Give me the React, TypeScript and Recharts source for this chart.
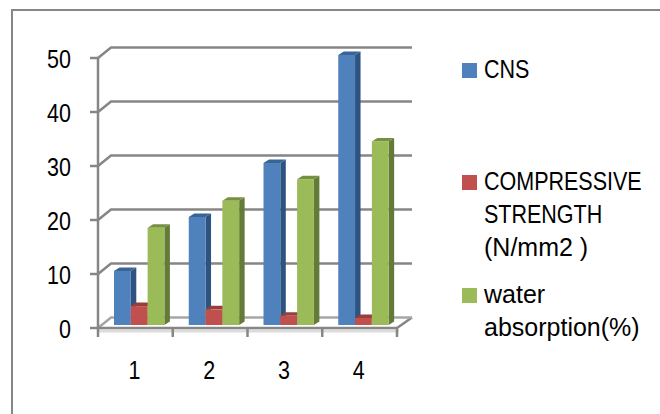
import React from 'react';
import { BarChart, Bar, XAxis, YAxis, CartesianGrid, Legend } from 'recharts';

const categories = ['1', '2', '3', '4'];
const cnsValues = [10, 20, 30, 50];
const strengthValues = [3.5, 2.9, 1.7, 1.3];
const waterValues = [18, 23, 27, 34];
const yTicks = [0, 10, 20, 30, 40, 50];

const data = categories.map((name, i) => ({
  name,
  cns: cnsValues[i],
  strength: strengthValues[i],
  water: waterValues[i],
}));

const FONT = '"Liberation Sans", sans-serif';
const AXIS = '#868686';
const LINE = 2.5;
// the reference font has narrow caps and digits, so squeeze Liberation Sans to fit
const SQUEEZE = 0.86;

// fake 3D: face colours for each series
const sideColors: Record<string, string> = { '#4F81BD': '#2F5380', '#C0504D': '#8C3836', '#9BBB59': '#647A38' };
const topColors: Record<string, string> = { '#4F81BD': '#386496', '#C0504D': '#983F3C', '#9BBB59': '#76903F' };

const Bar3D = (props: any) => {
  const { x, y, width, height, fill } = props;
  const dx = 5.5;
  const dy = -3.5;
  const left = x + 4;
  const top = y - 3;
  const right = left + width;
  const bottom = top + height;
  return (
    <g>
      <path d={`M${right} ${top}L${right + dx} ${top + dy}L${right + dx} ${bottom + dy}L${right} ${bottom}Z`} fill={sideColors[fill]} />
      <path d={`M${left} ${top}L${left + dx} ${top + dy}L${right + dx} ${top + dy}L${right} ${top}Z`} fill={topColors[fill]} />
      <rect x={left} y={top} width={width} height={height} fill={fill} />
    </g>
  );
};

// gridlines sit on the back wall, joined to the axis by a short diagonal
const WallLine = (props: any) => {
  const { x1, x2, y1 } = props;
  const floor = y1 > 300;
  return (
    <g>
      {floor && <path d={`M${x2} ${y1}L${x2 + 15} ${y1 - 10.5}`} stroke={AXIS} strokeWidth={LINE} fill="none" />}
      {floor && <path d={`M${x1} ${y1 + 3}L${x2 + 2} ${y1 + 3}`} stroke="#dcdcdc" strokeWidth={3} fill="none" />}
      <path
        d={`M${x1} ${y1}L${x1 + 13} ${y1 - 10.5}L${x2 + 15} ${y1 - 10.5}`}
        stroke={floor ? '#a6a6a6' : AXIS}
        strokeWidth={LINE}
        fill="none"
      />
    </g>
  );
};

const XTick = (props: any) => {
  const { x, y, payload, width, visibleTicksCount, index } = props;
  const band = width / visibleTicksCount;
  const axisY = y - 8;
  return (
    <g>
      <line x1={x - band / 2} x2={x - band / 2} y1={axisY} y2={axisY + 9} stroke={AXIS} strokeWidth={LINE} />
      {index === visibleTicksCount - 1 && (
        <line x1={x + band / 2} x2={x + band / 2} y1={axisY} y2={axisY + 9} stroke={AXIS} strokeWidth={LINE} />
      )}
      <text
        transform={`translate(${x - 1} ${axisY + 51}) scale(${SQUEEZE} 1)`}
        textAnchor="middle"
        fontFamily={FONT}
        fontSize={25}
        fill="#000"
      >
        {payload.value}
      </text>
    </g>
  );
};

const YTick = (props: any) => {
  const { x, y, payload } = props;
  return (
    <g>
      <line x1={x} x2={x + 8} y1={y} y2={y} stroke={AXIS} strokeWidth={LINE} />
      <text
        transform={`translate(${x - 19} ${y + 10}) scale(${SQUEEZE} 1)`}
        textAnchor="end"
        fontFamily={FONT}
        fontSize={25}
        fill="#000"
      >
        {payload.value}
      </text>
    </g>
  );
};

const legendTops = [53, 165, 278];

const LegendBlock = ({ payload }: any) => (
  <div style={{ position: 'relative', fontFamily: FONT, fontSize: 25, lineHeight: '33px', color: '#000' }}>
    {(payload || []).map((item: any, i: number) => (
      <div key={item.value} style={{ position: 'absolute', top: legendTops[i], left: 0, width: 178 }}>
        <span style={{ position: 'absolute', left: 0, top: 10, width: 15, height: 15, background: item.color }} />
        <div style={{ position: 'absolute', left: 22, top: 0, width: 180 }}>
          {String(item.value)
            .split(/ (?=[A-Za-z(])/)
            .map((word) => (
              <div
                key={word}
                style={{
                  whiteSpace: 'nowrap',
                  transform: /^[A-Z]+$/.test(word) ? `scaleX(${SQUEEZE})` : undefined,
                  transformOrigin: 'left top',
                }}
              >
                {word}
              </div>
            ))}
        </div>
      </div>
    ))}
  </div>
);

const App: React.FC = () => (
  <div style={{ position: 'absolute', left: 0, top: 0, width: 660, height: 414, background: '#fff', overflow: 'hidden' }}>
    <div
      style={{
        position: 'absolute',
        left: 11,
        top: 9,
        width: 660,
        height: 420,
        borderLeft: `2px solid ${AXIS}`,
        borderTop: `2px solid ${AXIS}`,
      }}
    />
    <div style={{ position: 'absolute', left: 0, top: 0 }}>
      <BarChart
        width={660}
        height={414}
        data={data}
        margin={{ top: 58, right: 85, bottom: 0, left: 0 }}
        barSize={16.8}
        barGap={0}
      >
        <CartesianGrid vertical={false} horizontal={<WallLine />} stroke={AXIS} />
        <XAxis
          dataKey="name"
          height={86}
          axisLine={{ stroke: AXIS, strokeWidth: LINE }}
          tickLine={false}
          tick={<XTick />}
          interval={0}
        />
        <YAxis
          width={98}
          domain={[0, 50]}
          ticks={yTicks}
          axisLine={{ stroke: AXIS, strokeWidth: LINE }}
          tickLine={false}
          tick={<YTick />}
          interval={0}
        />
        <Legend
          layout="vertical"
          align="right"
          verticalAlign="top"
          width={178}
          wrapperStyle={{ left: 462, top: 0, right: 'auto' }}
          content={<LegendBlock />}
        />
        <Bar dataKey="cns" name="CNS" fill="#4F81BD" shape={<Bar3D />} isAnimationActive={false} />
        <Bar dataKey="strength" name="COMPRESSIVE STRENGTH (N/mm2 )" fill="#C0504D" shape={<Bar3D />} isAnimationActive={false} />
        <Bar dataKey="water" name="water absorption(%)" fill="#9BBB59" shape={<Bar3D />} isAnimationActive={false} />
      </BarChart>
    </div>
  </div>
);

export default App;
